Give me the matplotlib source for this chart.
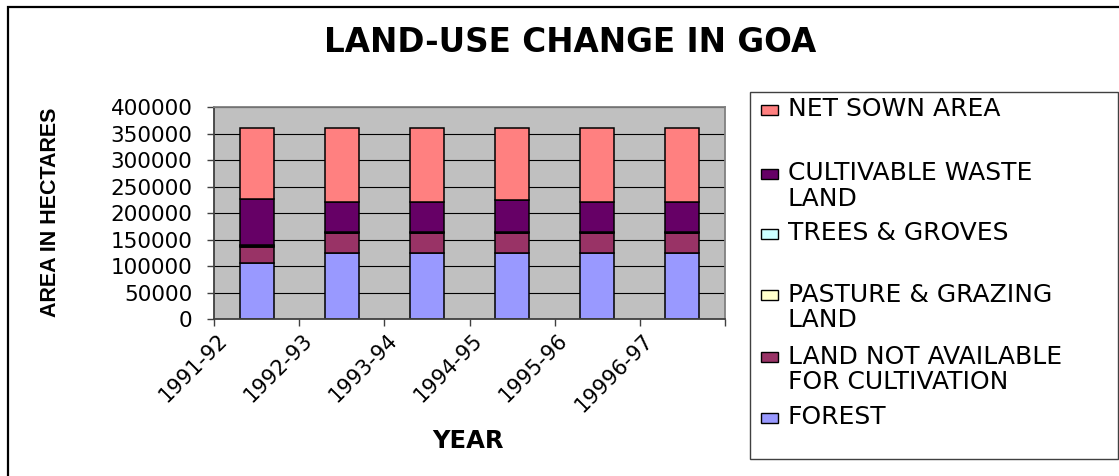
import matplotlib
matplotlib.use("Agg")
import matplotlib.pyplot as plt
from matplotlib.patches import Rectangle
from matplotlib.transforms import ScaledTranslation
import numpy as np

# ---- data (hectares) ----
years = ["1991-92", "1992-93", "1993-94", "1994-95", "1995-96", "19996-97"]
forest = [105700, 124600, 124600, 124600, 124600, 124600]
land_not_available = [31300, 37700, 37700, 37700, 37700, 37700]
pasture_grazing = [1300, 1300, 1300, 1300, 1300, 1300]
trees_groves = [1000, 1000, 1000, 1000, 1000, 1000]
cultivable_waste = [88200, 56700, 56700, 59800, 56400, 56400]
net_sown = [134000, 140200, 140200, 137100, 140500, 140500]

series_names = ["FOREST", "LAND NOT AVAILABLE\nFOR CULTIVATION",
                "PASTURE & GRAZING\nLAND", "TREES & GROVES",
                "CULTIVABLE WASTE\nLAND", "NET SOWN AREA"]
series_values = [forest, land_not_available, pasture_grazing,
                 trees_groves, cultivable_waste, net_sown]
series_colors = ["#9999FF", "#993366", "#FFFFCC", "#CCFFFF", "#660066", "#FF8080"]

W, H = 1119, 476
fig = plt.figure(figsize=(W / 100, H / 100), dpi=100)
fig.patch.set_facecolor("white")

# ---- plot area ----
left, right, top, bottom = 214, 725, 107.3, 319.3
ax = fig.add_axes([left / W, 1 - bottom / H, (right - left) / W, (bottom - top) / H])
ax.set_facecolor("#C0C0C0")

x = np.arange(len(years))
base = np.zeros(len(years))
for vals, col in zip(series_values, series_colors):
    ax.bar(x, vals, width=0.4, bottom=base, color=col, edgecolor="black",
           linewidth=1.1, zorder=3)
    base = base + np.array(vals)

ax.set_xlim(-0.5, len(years) - 0.5)
ax.set_ylim(0, 400000)
ax.set_yticks(np.arange(0, 400001, 50000))
ax.yaxis.grid(True, color="black", linewidth=0.8, zorder=1)
ax.set_axisbelow(True)

ax.tick_params(axis="y", direction="out", length=5, width=1, color="#404040",
               pad=10.5, labelsize=15.5)
for lab in ax.get_yticklabels():
    lab.set_family("DejaVu Sans")

# category labels sit at the centres, tick marks at the boundaries
ax.set_xticks(x)
ax.set_xticklabels(years, rotation=45, ha="right", va="center",
                   rotation_mode="anchor", fontsize=15, family="DejaVu Sans")
ax.tick_params(axis="x", which="major", length=0, pad=13)
ax.set_xticks(np.arange(-0.5, len(years), 1.0), minor=True)
ax.tick_params(axis="x", which="minor", direction="out", length=5, width=1,
               color="#404040")
shift = ScaledTranslation(-32.6 / 100, 0, fig.dpi_scale_trans)
for lab in ax.get_xticklabels():
    lab.set_transform(lab.get_transform() + shift)

for side in ("left", "bottom"):
    ax.spines[side].set_color("#404040")
    ax.spines[side].set_linewidth(1.3)
for side in ("top", "right"):
    ax.spines[side].set_color("#808080")
    ax.spines[side].set_linewidth(1.3)
for sp in ax.spines.values():
    sp.set_zorder(4)

# ---- titles ----
fig.text(570 / W, 1 - 42 / H, "LAND-USE CHANGE IN GOA", ha="center", va="center",
         fontsize=23.5, fontweight="bold", family="DejaVu Sans")
fig.text(468 / W, 1 - 441 / H, "YEAR", ha="center", va="center",
         fontsize=17.5, fontweight="bold", family="DejaVu Sans")
fig.text(51 / W, 1 - 212 / H, "AREA IN HECTARES", ha="center", va="center",
         rotation=90, fontsize=15.5, fontweight="bold", family="Liberation Sans")

# ---- overlay in pixel units: outer frame and legend ----
ov = fig.add_axes([0, 0, 1, 1], facecolor="none")
ov.set_xlim(0, W)
ov.set_ylim(H, 0)
ov.axis("off")

ov.plot([8, 8, W + 5], [H + 5, 6.5, 6.5], color="black", linewidth=1.6,
        clip_on=False, solid_joinstyle="miter")

ov.add_patch(Rectangle((750, 92), 368, 367, fill=False, edgecolor="#404040",
                       linewidth=1.0))

legend_tops = [99, 163, 223, 284, 346, 407]
legend_order = list(range(len(series_names)))[::-1]
for ytop, idx in zip(legend_tops, legend_order):
    ov.add_patch(Rectangle((761, ytop + 6), 17, 10, facecolor=series_colors[idx],
                           edgecolor="black", linewidth=1.0))
    ov.text(788, ytop - 1.5, series_names[idx], ha="left", va="top", fontsize=18,
            family="DejaVu Sans", linespacing=1.08)

fig.savefig("out.png", dpi=100, facecolor="white")
